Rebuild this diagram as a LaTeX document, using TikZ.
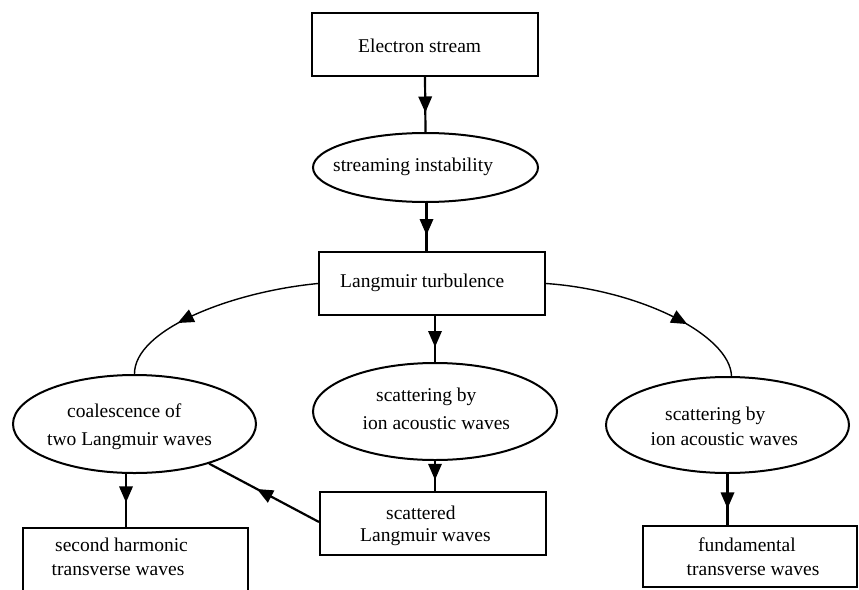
\documentclass[tikz,border=0pt]{standalone}
\usepackage{fontspec}
\setmainfont{Liberation Serif}
\usetikzlibrary{shapes.geometric,decorations.markings}

\tikzset{
  stagebox/.style={draw, line width=2pt, rectangle, inner sep=0pt},
  stageoval/.style={draw, line width=2pt, ellipse, inner sep=0pt},
  lbl/.style={anchor=base west, inner sep=0pt, font=\fontsize{19.5}{23}\selectfont},
  midarrow/.style={postaction={decorate}, decoration={markings,
    mark=at position #1 with {\fill (8pt,0pt) -- (-8pt,7pt) -- (-8pt,-7pt) -- cycle;}}},
  flow/.style={line width=2.2pt, midarrow=#1},
  flow/.default=0.5,
  bend/.style={line width=1.4pt, midarrow=#1},
  bend/.default=0.64
}

\begin{document}
\begin{tikzpicture}[x=1pt, y=-1pt]
\useasboundingbox (0,0) rectangle (859,589);

% shapes
\node[stagebox, minimum width=226pt, minimum height=63pt] (elec) at (425,44.5) {};
\node[stageoval, minimum width=225pt, minimum height=69pt] (stream) at (425.5,167.5) {};
\node[stagebox, minimum width=226pt, minimum height=63pt] (lang) at (432,283.5) {};
\node[stageoval, minimum width=244pt, minimum height=97pt] (ionmid) at (435,411.5) {};
\node[stagebox, minimum width=226pt, minimum height=63pt] (scat) at (433,523.5) {};
\node[stageoval, minimum width=243pt, minimum height=98pt] (coal) at (134.5,424) {};
\node[stagebox, minimum width=225pt, minimum height=63pt] (harm) at (135.5,559.5) {};
\node[stageoval, minimum width=243pt, minimum height=96pt] (ionright) at (727.5,425) {};
\node[stagebox, minimum width=214pt, minimum height=61pt] (fund) at (750,556.3) {};

% labels
\node[lbl] (t-elec) at (358,52) {Electron stream};
\node[lbl] (t-stream) at (333,171.5) {streaming instability};
\node[lbl] (t-lang) at (340,287) {Langmuir turbulence};
\node[lbl] (t-mid1) at (376,401) {scattering by};
\node[lbl] (t-mid2) at (362.5,429.5) {ion acoustic waves};
\node[lbl] (t-coal1) at (67,417.5) {coalescence of};
\node[lbl] (t-coal2) at (47,445) {two Langmuir waves};
\node[lbl] (t-right1) at (665,420.5) {scattering by};
\node[lbl] (t-right2) at (650.5,445) {ion acoustic waves};
\node[lbl] (t-scat1) at (386,519.5) {scattered};
\node[lbl] (t-scat2) at (360,541.5) {Langmuir waves};
\node[lbl] (t-harm1) at (55,551.5) {second harmonic};
\node[lbl] (t-harm2) at (51.5,575) {transverse waves};
\node[lbl] (t-fund1) at (698,551.5) {fundamental};
\node[lbl] (t-fund2) at (686.5,575) {transverse waves};

% straight connectors
\draw[flow] (elec.south) -- (stream.north);
\draw[flow] ([xshift=1pt]stream.south) -- ([xshift=1pt]stream.south |- lang.north);
\draw[flow] (ionmid.north |- lang.south) -- (ionmid.north);
\draw[flow=0.36] (ionmid.south) -- (ionmid.south |- scat.north);
\draw[flow=0.385] ([xshift=-8.5pt]coal.south) -- ([xshift=-8.5pt]coal.south |- harm.north);
\draw[flow=0.52] (ionright.south) -- (ionright.south |- fund.north);
\draw[flow] ([yshift=1.5pt]scat.west) -- (coal);

% curved connectors
\draw[bend] (lang.west) .. controls (230,292) and (134,330) .. (coal.north);
\draw[bend] (lang.east) .. controls (640,290) and (730,335) .. ([xshift=4pt]ionright.north);
\end{tikzpicture}
\end{document}
